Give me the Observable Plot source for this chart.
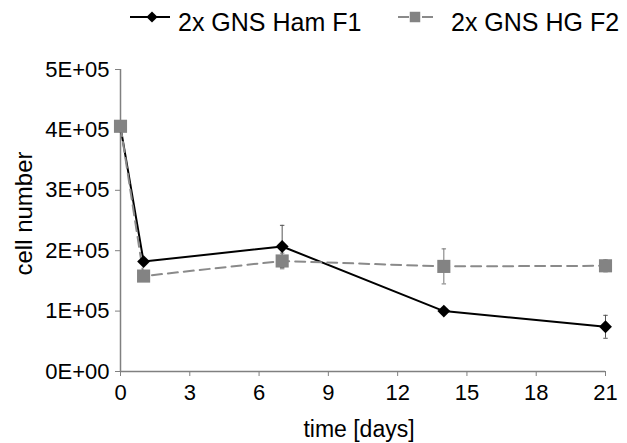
<!DOCTYPE html>
<html>
<head>
<meta charset="utf-8">
<script src="https://cdn.jsdelivr.net/npm/d3@7"></script>
<script src="https://cdn.jsdelivr.net/npm/@observablehq/plot@0.6"></script>
<style>
  html, body { margin: 0; padding: 0; background: white; }
  #wrap { width: 627px; height: 443px; position: relative; font-family: "Liberation Sans", Arial, sans-serif; }
  #legend { display: block; }
</style>
</head>
<body>
<div id="wrap">
  <svg id="legend" width="627" height="40" xmlns="http://www.w3.org/2000/svg"></svg>
  <div id="chart"></div>
</div>
<script>
// ---- data ----
const days = [0, 1, 7, 14, 21];
const seriesNames = ["2x GNS Ham F1", "2x GNS HG F2"];
const hamValues = [405000, 182000, 207000, 100000, 74000];
const hamErrors = [0, 0, 35000, 4000, 19000];
const hgValues = [406000, 158000, 183000, 174000, 175000];
const hgErrors = [0, 0, 13000, 29000, 10000];
const xTicks = [0, 3, 6, 9, 12, 15, 18, 21];
const yTicks = [0, 100000, 200000, 300000, 400000, 500000];
const yTickLabels = ["0E+00", "1E+05", "2E+05", "3E+05", "4E+05", "5E+05"];
const xLabel = "time [days]";
const yLabel = "cell number";

const ham = days.map((d, i) => ({day: d, v: hamValues[i], lo: hamValues[i] - hamErrors[i], hi: hamValues[i] + hamErrors[i], err: hamErrors[i]}));
const hg = days.map((d, i) => ({day: d, v: hgValues[i], lo: hgValues[i] - hgErrors[i], hi: hgValues[i] + hgErrors[i], err: hgErrors[i]}));
const hamE = ham.filter(d => d.err > 0);
const hgE = hg.filter(d => d.err > 0);
const capsOf = rows => rows.flatMap(d => [{day: d.day, y: d.lo}, {day: d.day, y: d.hi}]);

const cap = {draw(ctx, size) { const w = Math.sqrt(size); ctx.moveTo(-w / 2, 0); ctx.lineTo(w / 2, 0); }};

const GREY = "#838383";
const AXIS = "#808080";

const chart = Plot.plot({
  width: 627,
  height: 403,
  marginTop: 29,
  marginBottom: 72,
  marginLeft: 120,
  marginRight: 22,
  style: {fontFamily: "'Liberation Sans', Arial, sans-serif", fontSize: "22px", color: "black", background: "white"},
  x: {domain: [0, 21]},
  y: {domain: [0, 500000]},
  marks: [
    Plot.axisX({ticks: xTicks, tickSize: 5, tickPadding: 8, stroke: AXIS, fill: "black", label: null, fontSize: 22}),
    Plot.axisY({ticks: yTicks, tickFormat: d => yTickLabels[yTicks.indexOf(d)], tickSize: 5, tickPadding: 6, stroke: AXIS, fill: "black", label: null, fontSize: 22}),
    Plot.ruleX([0], {stroke: AXIS, strokeWidth: 1.5}),
    Plot.ruleY([0], {stroke: AXIS, strokeWidth: 1.5}),
    Plot.text([yLabel], {frameAnchor: "left", textAnchor: "middle", lineAnchor: "middle", rotate: -90, dx: -96, dy: -7, fontSize: 24, fill: "black"}),
    Plot.text([xLabel], {frameAnchor: "bottom", textAnchor: "middle", lineAnchor: "middle", dx: -4, dy: 58, fontSize: 23, fill: "black"}),
    // error bars
    Plot.ruleX(hamE, {x: "day", y1: "lo", y2: "hi", stroke: "#555", strokeWidth: 1}),
    Plot.dot(capsOf(hamE), {x: "day", y: "y", symbol: cap, r: 2.5, stroke: "#555", strokeWidth: 1}),
    Plot.ruleX(hgE, {x: "day", y1: "lo", y2: "hi", stroke: "#777", strokeWidth: 1}),
    Plot.dot(capsOf(hgE), {x: "day", y: "y", symbol: cap, r: 2.5, stroke: "#777", strokeWidth: 1}),
    // lines
    Plot.line(ham, {x: "day", y: "v", stroke: "black", strokeWidth: 2}),
    Plot.line(hg, {x: "day", y: "v", stroke: "#8a8a8a", strokeWidth: 2, strokeDasharray: "10,6"}),
    // markers
    Plot.dot(ham, {x: "day", y: "v", symbol: "diamond2", r: 5.8, fill: "black", stroke: "none"}),
    Plot.dot(hg, {x: "day", y: "v", symbol: "square", r: 7.4, fill: GREY, stroke: "none"})
  ]
});
document.getElementById("chart").appendChild(chart);

// ---- legend ----
const lg = d3.select("#legend");
const items = [
  {name: seriesNames[0], x0: 130, x1: 170, mx: 152, tx: 178, stroke: "black", dash: null, symbol: d3.symbolDiamond2, size: 80, fill: "black"},
  {name: seriesNames[1], x0: 398, x1: 442, mx: 415, tx: 451, stroke: "#8a8a8a", dash: "11,13", symbol: d3.symbolSquare, size: 110, fill: GREY}
];
for (const it of items) {
  lg.append("line").attr("x1", it.x0).attr("x2", it.x1).attr("y1", 17).attr("y2", 17)
    .attr("stroke", it.stroke).attr("stroke-width", 2).attr("stroke-dasharray", it.dash);
  lg.append("path").attr("d", d3.symbol(it.symbol, it.size)()).attr("transform", `translate(${it.mx},17)`).attr("fill", it.fill);
  lg.append("text").attr("x", it.tx).attr("y", 31).attr("font-size", 25).attr("font-family", "'Liberation Sans', Arial, sans-serif").attr("fill", "black").text(it.name);
}
</script>
</body>
</html>
